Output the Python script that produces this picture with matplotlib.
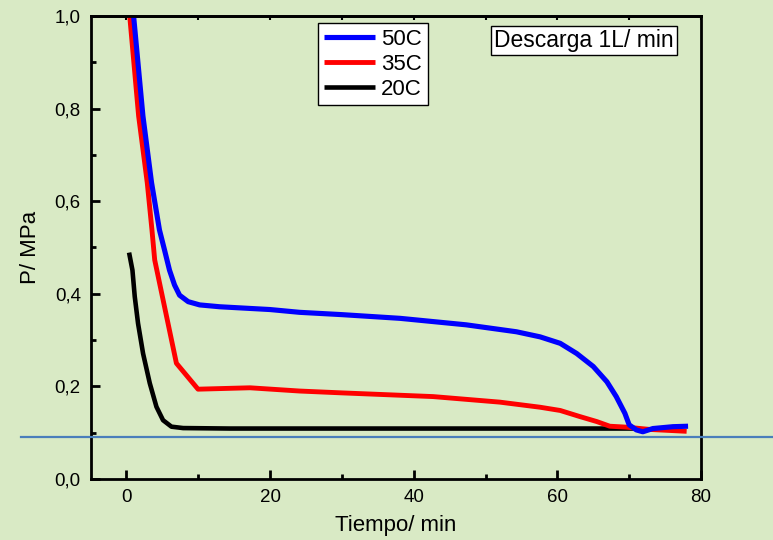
import matplotlib
matplotlib.use("Agg")
import matplotlib.pyplot as plt
from matplotlib.ticker import MultipleLocator, FuncFormatter
from matplotlib.transforms import blended_transform_factory

plt.rcParams['font.family'] = ['Liberation Sans', 'DejaVu Sans']

# ---- data ----
x_50 = [1.0, 2.3, 3.5, 4.6, 5.3, 6.0, 6.7, 7.4, 8.6, 10.2, 13.0, 20, 24.1, 30, 38.1,
        47.3, 54.3, 57.6, 60.4, 62.7, 65.0, 66.9, 68.2, 69.4, 70.0, 71.0, 71.9, 73.3,
        76.1, 78.2]
y_50 = [1.0, 0.784, 0.640, 0.538, 0.495, 0.451, 0.419, 0.397, 0.383, 0.376, 0.372,
        0.366, 0.360, 0.355, 0.347, 0.333, 0.318, 0.307, 0.293, 0.271, 0.243, 0.210,
        0.178, 0.142, 0.117, 0.106, 0.102, 0.109, 0.113, 0.114]

x_35 = [0.46, 1.7, 2.9, 3.55, 3.94, 6.96, 9.97, 17.2, 24.1, 30, 42.7, 52.0, 57.6,
        60.4, 63.1, 65.5, 67.3, 69.6, 72.9, 78.0]
y_35 = [1.0, 0.784, 0.640, 0.539, 0.473, 0.250, 0.194, 0.197, 0.190, 0.186, 0.178,
        0.166, 0.155, 0.148, 0.135, 0.124, 0.114, 0.112, 0.107, 0.103]

x_20 = [0.37, 0.84, 1.16, 1.62, 2.32, 3.25, 4.18, 5.1, 6.27, 7.9, 14.4, 30, 50, 71]
y_20 = [0.489, 0.451, 0.394, 0.336, 0.271, 0.207, 0.156, 0.127, 0.113, 0.110, 0.109,
        0.109, 0.109, 0.109]

ref_level = [0.091, 0.091]
ref_span = [0.027, 1.0]  # figure fraction span of the reference line

series_labels = ['50C', '35C', '20C']
x_ticks = [0, 20, 40, 60, 80]
y_ticks = [0.0, 0.2, 0.4, 0.6, 0.8, 1.0]
annotation = 'Descarga 1L/ min'
x_label = 'Tiempo/ min'
y_label = 'P/ MPa'

bg = '#D9EAC5'

fig = plt.figure(figsize=(7.73, 5.40), dpi=100, facecolor=bg)
ax = fig.add_axes([90.5/773, 1 - 479/540, (701 - 90.5)/773, (479 - 16)/540])
ax.set_facecolor(bg)

l20, = ax.plot(x_20, y_20, color='black', lw=3.3, solid_capstyle='butt',
               solid_joinstyle='round')
l35, = ax.plot(x_35, y_35, color='#FF0000', lw=3.5, solid_capstyle='butt',
               solid_joinstyle='round')
l50, = ax.plot(x_50, y_50, color='#0000FF', lw=3.7, solid_capstyle='butt',
               solid_joinstyle='round')

# reference line spanning the whole figure width
tr = blended_transform_factory(fig.transFigure, ax.transData)
ax.plot(ref_span, ref_level, color='#4A7EBB', lw=1.6, transform=tr, clip_on=False, zorder=5)

ax.set_xlim(-5, 80)
ax.set_ylim(0, 1.0)
ax.set_xticks(x_ticks)
ax.set_yticks(y_ticks)
ax.xaxis.set_minor_locator(MultipleLocator(10))
ax.yaxis.set_minor_locator(MultipleLocator(0.1))
ax.yaxis.set_major_formatter(FuncFormatter(lambda v, p: f'{v:.1f}'.replace('.', ',')))
ax.xaxis.set_major_formatter(FuncFormatter(lambda v, p: f'{v:.0f}'))

for s in ax.spines.values():
    s.set_linewidth(2.0)
ax.tick_params(which='major', direction='in', length=6.5, width=2.0, labelsize=13.5, pad=7)
ax.tick_params(which='minor', direction='in', length=3.5, width=2.0)

sec = ax.secondary_xaxis('top')
sec.set_xticks([-10, 0, 10, 20, 30, 40, 50, 60, 70, 80])
sec.tick_params(direction='in', length=3, width=1.5, labeltop=False)
sec.spines['top'].set_linewidth(2.0)

ax.set_xlabel(x_label, fontsize=16, labelpad=7)
ax.set_ylabel(y_label, fontsize=16, labelpad=10)

leg = ax.legend([l50, l35, l20], series_labels, loc='upper left',
                bbox_to_anchor=((318 - 90.5)/610.5, (479 - 23)/463), borderaxespad=0,
                fontsize=16, frameon=True, fancybox=False, edgecolor='black',
                framealpha=1, facecolor='white', labelspacing=0.18, handlelength=2.3,
                handletextpad=0.3, borderpad=0.25)
leg.get_frame().set_linewidth(1.0)

ax.text((584 - 90.5)/610.5, (479 - 40.5)/463, annotation, transform=ax.transAxes,
        ha='center', va='center', fontsize=16.5,
        bbox=dict(boxstyle='square,pad=0.12', facecolor='white', edgecolor='black', lw=1.0))

fig.savefig('out.png', dpi=100, facecolor=bg)
